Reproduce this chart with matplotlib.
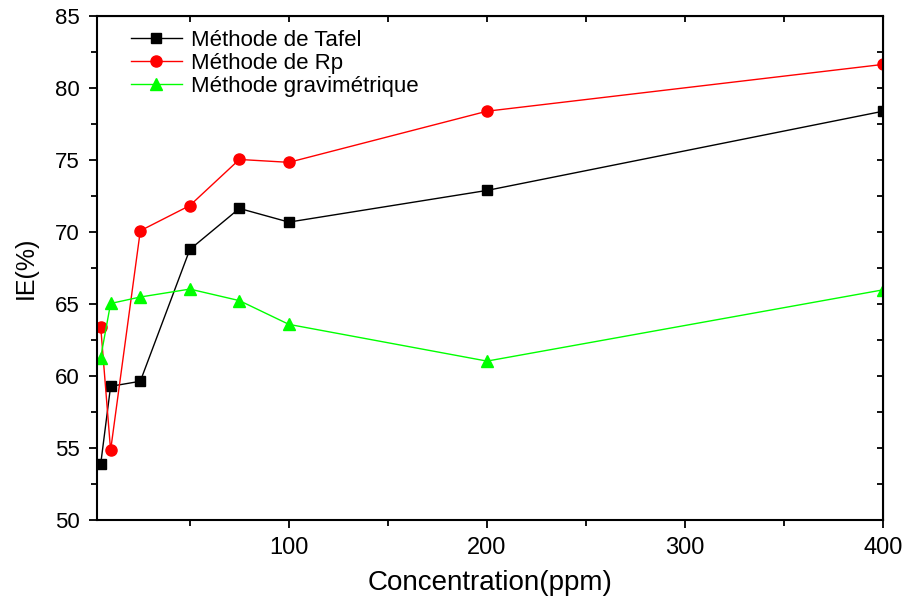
import matplotlib.pyplot as plt
from matplotlib.ticker import MultipleLocator

# concentrations (ppm)
conc = [5, 10, 25, 50, 75, 100, 200, 400]

# inhibition efficiency IE(%) per method
ie_tafel = [53.9, 59.3, 59.65, 68.8, 71.65, 70.7, 72.9, 78.4]
ie_rp = [63.45, 54.85, 70.1, 71.85, 75.05, 74.85, 78.4, 81.65]
ie_grav = [61.3, 65.05, 65.5, 66.05, 65.25, 63.6, 61.05, 66.0]

labels = ["Méthode de Tafel", "Méthode de Rp", "Méthode gravimétrique"]

plt.rcParams["font.family"] = ["Liberation Sans", "DejaVu Sans"]

fig = plt.figure(figsize=(9.04, 5.98), dpi=100)
ax = fig.add_axes([0.107, 0.130, 0.870, 0.843])

ax.plot(conc, ie_tafel, color="black", lw=1, marker="s", ms=7, label=labels[0])
ax.plot(conc, ie_rp, color="red", lw=1, marker="o", ms=8, label=labels[1])
ax.plot(conc, ie_grav, color="#00ff00", lw=1, marker="^", ms=9, label=labels[2])

ax.set_xlim(3, 400)
ax.set_ylim(50, 85)
ax.xaxis.set_major_locator(MultipleLocator(100))
ax.xaxis.set_minor_locator(MultipleLocator(50))
ax.yaxis.set_major_locator(MultipleLocator(5))
ax.yaxis.set_minor_locator(MultipleLocator(2.5))

for s in ax.spines.values():
    s.set_linewidth(1.5)

# bottom/left ticks outward, top/right ticks inward without labels
ax.tick_params(which="both", direction="out", width=1.3, top=False, right=False)
ax.tick_params(which="major", length=6)
ax.tick_params(which="minor", length=4)
ax.tick_params(axis="y", labelsize=16, pad=6)
ax.tick_params(axis="x", labelsize=17, pad=6)

sec_x = ax.secondary_xaxis("top")
sec_x.xaxis.set_major_locator(MultipleLocator(50))
sec_x.tick_params(direction="in", length=4, width=1.3, labeltop=False)
sec_y = ax.secondary_yaxis("right")
sec_y.yaxis.set_major_locator(MultipleLocator(2.5))
sec_y.tick_params(direction="in", length=4, width=1.3, labelright=False)

ax.set_xlabel("Concentration(ppm)", fontsize=20, labelpad=8)
ax.set_ylabel("IE(%)", fontsize=18, labelpad=13)

ax.legend(loc="upper left", bbox_to_anchor=(0.018, 1.012), frameon=False, fontsize=16,
          handlelength=2.3, labelspacing=0.08, handletextpad=0.4)

fig.savefig("out.png", dpi=100)
